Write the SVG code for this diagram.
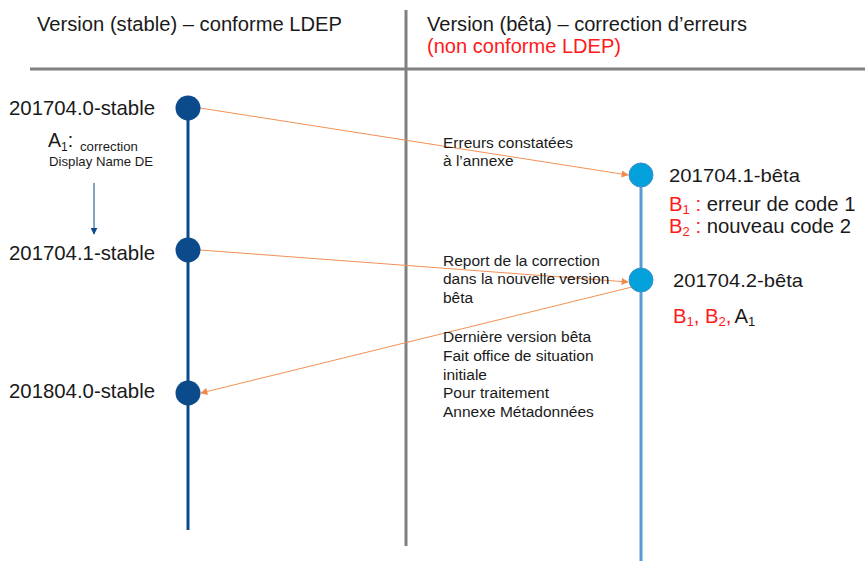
<svg xmlns="http://www.w3.org/2000/svg" width="865" height="561" viewBox="0 0 865 561">
<defs>
<style>
text{font-family:"Liberation Sans",Arial,sans-serif;fill:#1a1a1a}
.h{font-size:20px}
.red{fill:#ff1a1a}
.lbl{font-size:20.3px}
.rl{font-size:19px}
.sm{font-size:15.5px}
.xs{font-size:13.2px}
.conn{stroke:#f29055;stroke-width:1;fill:none}
.stable{fill:#0b4a8b}
.beta{fill:#03a0dc;stroke:#3c8fc8;stroke-width:1}
</style>
<marker id="ah" viewBox="0 0 10 10" refX="9" refY="5" markerWidth="8" markerHeight="7" orient="auto" markerUnits="userSpaceOnUse"><path d="M0,0 L10,5 L0,10 z" fill="#f08a4b"/></marker>
<marker id="ab" viewBox="0 0 10 10" refX="9" refY="5" markerWidth="7" markerHeight="7" orient="auto" markerUnits="userSpaceOnUse"><path d="M0,0 L10,5 L0,10 z" fill="#0b4a8b"/></marker>
</defs>
<g id="frame">
<line x1="30" y1="69" x2="865" y2="69" stroke="#808080" stroke-width="3"/>
<line x1="406" y1="10" x2="406" y2="546" stroke="#808080" stroke-width="3"/>
<text class="h" x="37" y="31" textLength="305" lengthAdjust="spacingAndGlyphs">Version (stable) – conforme LDEP</text>
<text class="h" x="427" y="31" textLength="320" lengthAdjust="spacingAndGlyphs">Version (bêta) – correction d’erreurs</text>
<text class="h red" x="427" y="53" textLength="194" lengthAdjust="spacingAndGlyphs">(non conforme LDEP)</text>
</g>
<g id="timelines">
<line x1="188" y1="108" x2="188" y2="530" stroke="#0b4a8b" stroke-width="3"/>
<line x1="641" y1="175" x2="641" y2="561" stroke="#5b9bd5" stroke-width="3"/>
</g>
<g id="connectors">
<line class="conn" x1="200" y1="108" x2="628" y2="175" marker-end="url(#ah)"/>
<line class="conn" x1="200" y1="250" x2="628" y2="282" marker-end="url(#ah)"/>
<line class="conn" x1="632" y1="287" x2="201" y2="393" marker-end="url(#ah)"/>
<line x1="94" y1="183" x2="94" y2="234" stroke="#0b4a8b" stroke-width="1" marker-end="url(#ab)"/>
</g>
<g id="n-201704-0-stable">
<circle class="stable" cx="188" cy="108" r="12.5"/>
<text class="lbl" x="9" y="115" textLength="146" lengthAdjust="spacingAndGlyphs">201704.0-stable</text>
</g>
<g id="n-a1">
<text x="48" y="147"><tspan font-size="19.5">A</tspan><tspan font-size="12" dy="4">1</tspan><tspan font-size="19.5" dy="-4">:</tspan><tspan font-size="13.2" x="80" dy="4">correction</tspan></text>
<text class="xs" x="49" y="166">Display Name DE</text>
</g>
<g id="n-201704-1-stable">
<circle class="stable" cx="188" cy="250" r="12.5"/>
<text class="lbl" x="9" y="260" textLength="146" lengthAdjust="spacingAndGlyphs">201704.1-stable</text>
</g>
<g id="n-201804-0-stable">
<circle class="stable" cx="188" cy="393" r="12.5"/>
<text class="lbl" x="9" y="398" textLength="146" lengthAdjust="spacingAndGlyphs">201804.0-stable</text>
</g>
<g id="n-201704-1-beta">
<circle class="beta" cx="641" cy="175" r="12"/>
<text class="rl" x="669" y="182" textLength="131" lengthAdjust="spacingAndGlyphs">201704.1-bêta</text>
<text class="lbl" x="669" y="211"><tspan class="red">B</tspan><tspan class="red" font-size="13" dy="3">1</tspan><tspan class="red" dy="-3"> :</tspan> erreur de code 1</text>
<text class="lbl" x="669" y="233"><tspan class="red">B</tspan><tspan class="red" font-size="13" dy="3">2</tspan><tspan class="red" dy="-3"> :</tspan> nouveau code 2</text>
</g>
<g id="n-201704-2-beta">
<circle class="beta" cx="641" cy="280" r="12"/>
<text class="rl" x="673" y="287" textLength="130" lengthAdjust="spacingAndGlyphs">201704.2-bêta</text>
<text class="lbl" x="673" y="323"><tspan class="red">B</tspan><tspan class="red" font-size="13" dy="3">1</tspan><tspan class="red" dy="-3">, B</tspan><tspan class="red" font-size="13" dy="3">2</tspan><tspan class="red" dy="-3">,</tspan><tspan dx="3">A</tspan><tspan font-size="13" dy="3">1</tspan></text>
</g>
<g id="labels">
<text class="sm" x="443" y="148">Erreurs constatées</text>
<text class="sm" x="443" y="166">à l’annexe</text>
<text class="sm" x="443" y="266">Report de la correction</text>
<text class="sm" x="443" y="284">dans la nouvelle version</text>
<text class="sm" x="443" y="303">bêta</text>
<text class="sm" x="443" y="342">Dernière version bêta</text>
<text class="sm" x="443" y="361">Fait office de situation</text>
<text class="sm" x="443" y="380">initiale</text>
<text class="sm" x="443" y="398">Pour traitement</text>
<text class="sm" x="443" y="417">Annexe Métadonnées</text>
</g>
</svg>
